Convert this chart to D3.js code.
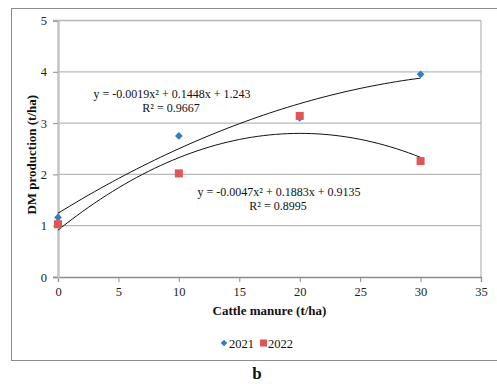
<!DOCTYPE html>
<head>
  <style>
    body { margin: 0; background: #fff; }
    text { font-family: "Liberation Serif", "Times New Roman", serif; }
  </style>
</head>
<body>
  <script src="https://cdn.jsdelivr.net/npm/d3@7/dist/d3.min.js"></script>
  <script>
    // data
    var years = ["2021", "2022"];
    var manure = [0, 10, 20, 30];
    var dm2021 = [1.16, 2.75, 3.1, 3.95];
    var dm2022 = [1.03, 2.02, 3.14, 2.26];
    // trend line coefficients [a, b, c] for a*x^2 + b*x + c, as printed
    var coef2021 = [-0.0019, 0.1448, 1.243];
    var coef2022 = [-0.0047, 0.1883, 0.9135];
    var eqLabels = ["y = -0.0019x² + 0.1448x + 1.243", "y = -0.0047x² + 0.1883x + 0.9135"];
    var r2Labels = ["R² = 0.9667", "R² = 0.8995"];
    var xTicks = [0, 5, 10, 15, 20, 25, 30, 35];
    var yTicks = [0, 1, 2, 3, 4, 5];

    var colors = ["#2f7fc1", "#e25555"];

    var margin = {top: 20.5, right: 16, bottom: 107, left: 58};
    var W = 497, H = 384;
    var width = W - margin.left - margin.right;
    var height = H - margin.top - margin.bottom;

    var svg = d3.select("body").append("svg")
      .attr("width", W).attr("height", H);

    // outer frame
    svg.append("rect")
      .attr("x", 11.5).attr("y", 8.5)
      .attr("width", 500).attr("height", 352)
      .attr("fill", "none").attr("stroke", "#8c8c8c").attr("stroke-width", 1);

    var g = svg.append("g")
      .attr("transform", "translate(" + margin.left + "," + margin.top + ")");

    var x = d3.scaleLinear().domain([0, 35]).range([0, width]);
    var y = d3.scaleLinear().domain([0, 5]).range([height, 0]);

    // gridlines
    g.append("g").selectAll("line")
      .data(yTicks.filter(function(d) { return d > 0; }))
      .enter().append("line")
      .attr("x1", 0).attr("x2", width)
      .attr("y1", function(d) { return y(d); })
      .attr("y2", function(d) { return y(d); })
      .attr("stroke", "#b8b8b8").attr("stroke-width", 1.3);

    // right border of plot
    g.append("line")
      .attr("x1", width).attr("x2", width)
      .attr("y1", 0).attr("y2", height)
      .attr("stroke", "#a8a8a8").attr("stroke-width", 1);

    // x axis
    var xAxis = d3.axisBottom(x).tickValues(xTicks).tickSize(5).tickPadding(5)
      .tickFormat(d3.format("d"));
    var gx = g.append("g")
      .attr("transform", "translate(0," + height + ")")
      .call(xAxis);
    gx.select(".domain").attr("stroke", "#8c8c8c").attr("stroke-width", 1.3);
    gx.selectAll(".tick line").attr("stroke", "#8c8c8c");
    gx.selectAll("text").attr("font-size", 12.5).attr("fill", "#222")
      .style("font-family", "'Liberation Serif', serif");

    // y axis
    var yAxis = d3.axisLeft(y).tickValues(yTicks).tickSize(5).tickPadding(6)
      .tickFormat(d3.format("d"));
    var gy = g.append("g").call(yAxis);
    gy.select(".domain").attr("stroke", "#c4c4c4").attr("stroke-width", 2.5);
    gy.selectAll(".tick line").attr("stroke", "#8c8c8c");
    gy.selectAll("text").attr("font-size", 12.5).attr("fill", "#222")
      .style("font-family", "'Liberation Serif', serif");

    // trend lines
    var coefs = [coef2021, coef2022];
    var xs = d3.range(0, 30.01, 0.5);
    var line = d3.line()
      .x(function(d) { return x(d[0]); })
      .y(function(d) { return y(d[1]); })
      .curve(d3.curveMonotoneX);
    coefs.forEach(function(c) {
      var pts = xs.map(function(v) { return [v, c[0] * v * v + c[1] * v + c[2]]; });
      g.append("path").datum(pts)
        .attr("d", line)
        .attr("fill", "none")
        .attr("stroke", "#111")
        .attr("stroke-width", 1);
    });

    // markers: diamond = square rotated 45deg
    var diamond = d3.symbol().type(d3.symbolSquare).size(30);
    g.append("g").selectAll("path")
      .data(manure.map(function(m, i) { return [m, dm2021[i]]; }))
      .enter().append("path")
      .attr("d", diamond)
      .attr("transform", function(d) { return "translate(" + x(d[0]) + "," + y(d[1]) + ") rotate(45)"; })
      .attr("fill", colors[0]);

    var sq = 8;
    g.append("g").selectAll("rect")
      .data(manure.map(function(m, i) { return [m, dm2022[i]]; }))
      .enter().append("rect")
      .attr("x", function(d) { return x(d[0]) - sq / 2; })
      .attr("y", function(d) { return y(d[1]) - sq / 2; })
      .attr("width", sq).attr("height", sq)
      .attr("fill", colors[1]);

    // equation labels
    var eqPos = [[114, 77.5], [221, 175.5]];
    eqLabels.forEach(function(t, i) {
      g.append("text")
        .attr("x", eqPos[i][0]).attr("y", eqPos[i][1])
        .attr("text-anchor", "middle")
        .attr("font-size", 12).attr("fill", "#111")
        .text(t);
      g.append("text")
        .attr("x", eqPos[i][0] - 1).attr("y", eqPos[i][1] + 14)
        .attr("text-anchor", "middle")
        .attr("font-size", 12).attr("fill", "#111")
        .text(r2Labels[i]);
    });

    // axis titles
    g.append("text")
      .attr("x", width / 2).attr("y", height + 38)
      .attr("text-anchor", "middle")
      .attr("font-size", 13).attr("font-weight", "bold").attr("fill", "#111")
      .text("Cattle manure (t/ha)");

    g.append("text")
      .attr("transform", "translate(-22," + (height / 2 + 6) + ") rotate(-90)")
      .attr("text-anchor", "middle")
      .attr("font-size", 13).attr("font-weight", "bold").attr("fill", "#111")
      .text("DM production (t/ha)");

    // legend
    var legend = svg.append("g").attr("transform", "translate(224,343)");
    legend.append("path")
      .attr("d", d3.symbol().type(d3.symbolSquare).size(22))
      .attr("transform", "rotate(45)")
      .attr("fill", colors[0]);
    legend.append("text").attr("x", 5).attr("y", 4.5)
      .attr("font-size", 12.5).attr("fill", "#111").text(years[0]);
    legend.append("rect").attr("x", 36).attr("y", -3.5)
      .attr("width", 7).attr("height", 7).attr("fill", colors[1]);
    legend.append("text").attr("x", 44).attr("y", 4.5)
      .attr("font-size", 12.5).attr("fill", "#111").text(years[1]);

    // panel letter
    svg.append("text")
      .attr("x", 257).attr("y", 379)
      .attr("text-anchor", "middle")
      .attr("font-size", 17).attr("font-weight", "bold").attr("fill", "#111")
      .text("b");
  </script>
</body>
